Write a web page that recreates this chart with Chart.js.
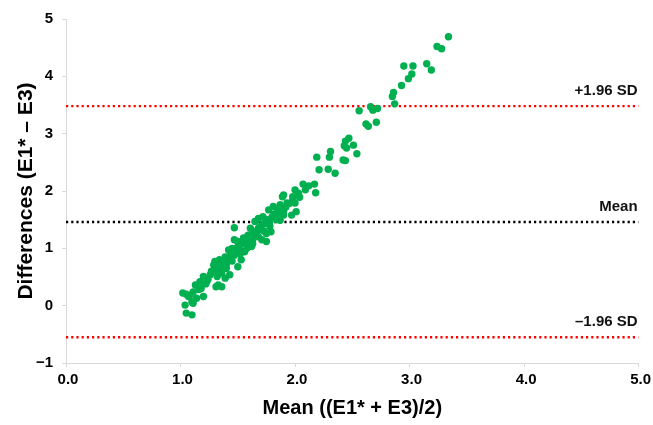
<!DOCTYPE html>
<html>
<head>
<meta charset="utf-8">
<script src="https://cdn.jsdelivr.net/npm/chart.js@4"></script>
<style>
  html, body { margin: 0; padding: 0; background: #fff; }
  #wrap { width: 653px; height: 425px; }
</style>
</head>
<body>
<div id="wrap"><canvas id="chart-ba"></canvas></div>
<script>
// mean of the two methods (x) and their difference (y)
const meanVals = [
  3.34, 3.24, 3.28, 3.15, 3.19, 2.95, 3.03, 3.02, 2.99, 2.93, 2.86, 2.85, 2.87,
  2.56, 2.66, 2.68, 2.72, 2.62, 2.64, 2.71, 2.47, 2.44, 2.43, 2.45, 2.51, 2.54,
  2.31, 2.30, 2.19, 2.42, 2.44, 2.21, 2.29, 2.35, 2.07, 2.17, 2.12, 2.00, 2.18,
  2.09, 1.89, 1.98, 2.03, 2.04,
  1.93, 2.00, 1.81, 1.85, 1.77, 2.01, 1.90, 1.97, 1.84, 1.72, 1.68, 1.65, 1.78,
  1.87, 1.47, 1.61, 1.69, 1.66, 1.75, 1.79, 1.59, 1.55, 1.63, 1.71, 1.75, 1.50,
  1.58, 1.62, 1.45, 1.52, 1.56, 1.42, 1.47, 1.39, 1.43, 1.34, 1.53, 1.30, 1.37,
  1.50, 1.40, 1.33, 1.29, 1.36, 1.43, 1.32, 1.39, 1.20, 1.26, 1.17, 1.23, 1.33,
  1.13, 1.18, 1.11, 1.07, 1.02, 1.14, 1.20, 1.04, 1.10, 1.05, 1.10, 1.11, 1.47,
  1.36, 1.31, 1.05, 1.90, 1.87,
  1.27, 1.30, 1.35, 1.38, 1.41, 1.44, 1.46, 1.48, 1.50, 1.53, 1.55, 1.57, 1.60,
  1.62, 1.64, 1.66, 1.68, 1.70, 1.72, 1.74, 1.76, 1.80, 1.82, 1.86, 1.88, 1.92,
  1.95, 1.98, 1.40, 1.45, 1.52, 1.58, 1.63, 1.68, 1.73, 1.78, 1.84, 1.90, 1.36,
  1.33, 1.24, 1.22, 1.16, 1.08
]
const diffVals = [
  4.69, 4.52, 4.48, 4.22, 4.11, 4.18, 4.18, 4.04, 3.96, 3.84, 3.72, 3.65, 3.52,
  3.40, 3.47, 3.41, 3.44, 3.17, 3.13, 3.20, 2.92, 2.87, 2.79, 2.75, 2.80, 2.65,
  2.69, 2.59, 2.59, 2.54, 2.53, 2.37, 2.38, 2.31, 2.12, 2.12, 2.09, 2.02, 1.97,
  2.02, 1.90, 1.90, 1.96, 1.89,
  1.79, 1.79, 1.73, 1.67, 1.67, 1.64, 1.58, 1.58, 1.55, 1.55, 1.52, 1.47, 1.47,
  1.49, 1.36, 1.35, 1.32, 1.23, 1.26, 1.29, 1.23, 1.18, 1.15, 1.15, 1.12, 1.12,
  1.06, 1.03, 1.00, 0.97, 0.94, 0.97, 0.88, 0.85, 0.80, 0.80, 0.80, 0.77, 0.71,
  0.68, 0.65, 0.65, 0.71, 0.57, 0.54, 0.51, 0.48, 0.51, 0.54, 0.42, 0.42, 0.36,
  0.36, 0.30, 0.24, 0.16, 0.22, 0.13, 0.16, 0.01, 0.07, -0.13, -0.16, 0.04, 1.15,
  0.33, 0.33, 0.20, 1.93, 1.76,
  0.60, 0.62, 0.75, 0.78, 0.83, 0.90, 0.95, 1.00, 1.02, 1.08, 1.10, 1.13, 1.18,
  1.22, 1.28, 1.30, 1.35, 1.38, 1.42, 1.44, 1.50, 1.55, 1.60, 1.62, 1.70, 1.72,
  1.78, 1.84, 0.72, 0.78, 0.90, 1.00, 1.08, 1.20, 1.30, 1.38, 1.50, 1.65, 0.62,
  0.55, 0.46, 0.38, 0.28, 0.18
]

// bias and limits of agreement
const limitNames = ['+1.96 SD', 'Mean', '\u20131.96 SD']
const limitVals = [3.48, 1.46, -0.55]
const limitColors = ['#FF0000', '#000000', '#FF0000']

const xTicks = [0, 1, 2, 3, 4, 5]
const yTicks = [-1, 0, 1, 2, 3, 4, 5]

const points = meanVals.map((m, i) => ({ x: m, y: diffVals[i] }))

const limitSets = limitVals.map((v, i) => ({
  type: 'line',
  label: limitNames[i],
  data: [{ x: xTicks[0], y: v }, { x: xTicks[xTicks.length - 1], y: v }],
  borderColor: limitColors[i],
  borderWidth: 2.4,
  borderDash: [2.2, 3],
  pointRadius: 0,
  fill: false,
  order: 2
}))

const limitLabels = {
  id: 'limitLabels',
  afterDatasetsDraw(chart) {
    const { ctx, chartArea, scales } = chart
    ctx.save()
    ctx.font = 'bold 15px "Liberation Sans", Arial, sans-serif'
    ctx.fillStyle = '#111'
    ctx.textAlign = 'right'
    ctx.textBaseline = 'middle'
    limitVals.forEach((v, i) => {
      const y = scales.y.getPixelForValue(v) - 15
      ctx.fillText(limitNames[i], chartArea.right - 1, y)
    })
    ctx.restore()
  }
}

const tickFont = { family: '"Liberation Sans", Arial, sans-serif', size: 15, weight: 'bold' }

new Chart(document.getElementById('chart-ba').getContext('2d'), {
  type: 'scatter',
  data: {
    datasets: [
      {
        label: 'Differences',
        data: points,
        backgroundColor: '#00B050',
        borderWidth: 0,
        pointRadius: 3.7,
        order: 1
      },
      ...limitSets
    ]
  },
  options: {
    responsive: true,
    maintainAspectRatio: false,
    animation: false,
    layout: { padding: { left: 0, right: 14, top: 19, bottom: 0 } },
    plugins: {
      legend: { display: false },
      tooltip: { enabled: false }
    },
    scales: {
      x: {
        type: 'linear',
        min: 0,
        max: 5,
        afterBuildTicks: s => { s.ticks = xTicks.map(v => ({ value: v })) },
        afterFit: s => { s.height = 62 },
        grid: { drawOnChartArea: false, color: '#D9D9D9', tickLength: 4 },
        border: { color: '#D9D9D9', width: 1 },
        ticks: {
          color: '#000',
          font: tickFont,
          padding: 4,
          labelOffset: 2,
          maxRotation: 0,
          callback: v => v.toFixed(1)
        },
        title: {
          display: true,
          text: 'Mean ((E1* + E3)/2)',
          color: '#000',
          font: { family: '"Liberation Sans", Arial, sans-serif', size: 20, weight: 'bold' },
          padding: { top: 0, bottom: 5 }
        }
      },
      y: {
        type: 'linear',
        min: -1,
        max: 5,
        afterBuildTicks: s => { s.ticks = yTicks.map(v => ({ value: v })) },
        afterFit: s => { s.width = 66 },
        grid: { drawOnChartArea: false, color: '#D9D9D9', tickLength: 4 },
        border: { color: '#D9D9D9', width: 1 },
        ticks: {
          color: '#000',
          font: tickFont,
          padding: 9,
          callback: v => (v < 0 ? '\u2212' + Math.abs(v) : String(v))
        },
        title: {
          display: true,
          text: 'Differences (E1* \u2013 E3)',
          color: '#000',
          font: { family: '"Liberation Sans", Arial, sans-serif', size: 21, weight: 'bold' },
          padding: { top: 14, bottom: 0 }
        }
      }
    }
  },
  plugins: [limitLabels]
})
</script>
</body>
</html>
